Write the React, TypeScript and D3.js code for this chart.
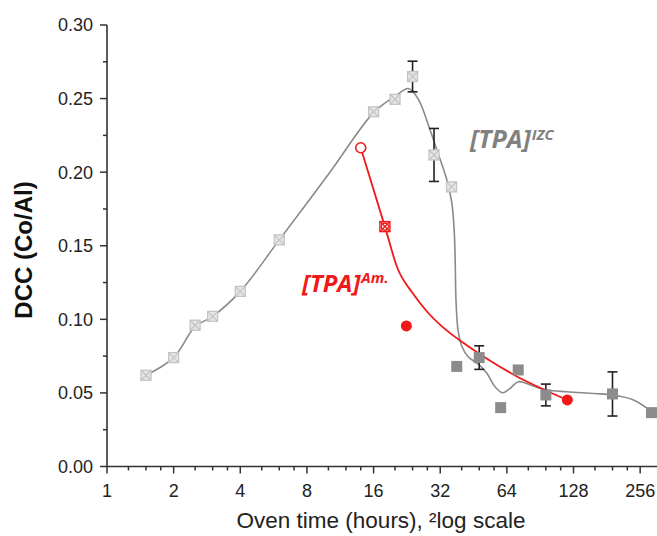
import React from "react";
import * as d3 from "d3";

// ---------- data ----------
// [TPA]^IZC series, light crossed squares (early)
const izcEarlyX = [1.5, 2, 2.5, 3, 4, 6, 16, 20, 24, 30, 36];
const izcEarlyY = [0.062, 0.074, 0.096, 0.102, 0.119, 0.154, 0.241, 0.2495, 0.265, 0.2117, 0.19];
const izcEarlyErr = [0, 0, 0, 0, 0, 0, 0, 0, 0.0104, 0.018, 0];
// [TPA]^IZC series, dark filled squares (late)
const izcLateX = [38, 48, 60, 72, 96, 192, 288];
const izcLateY = [0.068, 0.074, 0.04, 0.0656, 0.0486, 0.0493, 0.0366];
const izcLateErr = [0, 0.008, 0, 0, 0.0074, 0.015, 0];
// smoothed curve of [TPA]^IZC
const izcFitX = [1.5, 2, 2.5, 3, 4, 6, 10.2, 16, 20, 23, 25.5, 28.8, 30.9, 34.3, 36.1, 37.0, 37.4, 37.7, 38.5, 40.0, 42.9, 47.6, 52, 56.6, 61.4, 66.2, 72.2, 84, 97, 119.4, 160, 193.9, 238.9, 289];
const izcFitY = [0.062, 0.074, 0.095, 0.102, 0.119, 0.154, 0.2003, 0.2405, 0.2515, 0.2568, 0.2495, 0.2286, 0.2151, 0.1947, 0.1791, 0.1607, 0.139, 0.1132, 0.0928, 0.0819, 0.0744, 0.0696, 0.0633, 0.0542, 0.0501, 0.0531, 0.0576, 0.0547, 0.052, 0.0508, 0.0496, 0.0486, 0.0452, 0.0372];
// [TPA]^Am. series
const amX = [14, 18, 22.5, 120];
const amY = [0.2166, 0.163, 0.0955, 0.0452];
const amMarker = ["openCircle", "crossSquare", "dot", "dot"];
// smoothed curve of [TPA]^Am.
const amFitX = [14, 18, 20.5, 24, 28, 34, 42, 54, 71, 95, 120];
const amFitY = [0.2166, 0.163, 0.1349, 0.1179, 0.105, 0.0928, 0.0826, 0.0717, 0.0612, 0.052, 0.0452];

const xMajorTicks = [1, 2, 4, 8, 16, 32, 64, 128, 256];
const xMinorFactors = [1.25, 1.5, 1.75];
const yMajorTicks = [0, 0.05, 0.1, 0.15, 0.2, 0.25, 0.3];
const yMinorTicks = [0.025, 0.075, 0.125, 0.175, 0.225, 0.275];

const W = 657;
const H = 536;

export default function App() {
  const x = d3.scaleLog().base(2).domain([1, 305]).range([107, 657]);
  const y = d3.scaleLinear().domain([0, 0.3]).range([466.5, 25]);
  const axisColor = "#333";
  const font = "'Liberation Sans', Arial, sans-serif";
  const labelFont = "'Open Sans', sans-serif";

  const grayLine = d3
    .line<[number, number]>()
    .x((d) => x(d[0]))
    .y((d) => y(d[1]))
    .curve(d3.curveCatmullRom.alpha(0.5));
  const redLine = d3
    .line<[number, number]>()
    .x((d) => x(d[0]))
    .y((d) => y(d[1]))
    .curve(d3.curveMonotoneX);

  const izcFit = izcFitX.map((v, i) => [v, izcFitY[i]] as [number, number]);
  const amFit = amFitX.map((v, i) => [v, amFitY[i]] as [number, number]);

  const xMinor: number[] = [];
  xMajorTicks.forEach((t) =>
    xMinorFactors.forEach((f) => {
      if (t * f <= 305) xMinor.push(t * f);
    })
  );

  const errBar = (xv: number, yv: number, e: number, key: string) => {
    if (!e) return null;
    const cx = x(xv);
    const y1 = y(yv + e);
    const y2 = y(yv - e);
    return (
      <g key={key} stroke="#222" strokeWidth={1.6}>
        <line x1={cx} x2={cx} y1={y1} y2={y2} />
        <line x1={cx - 5} x2={cx + 5} y1={y1} y2={y1} />
        <line x1={cx - 5} x2={cx + 5} y1={y2} y2={y2} />
      </g>
    );
  };

  const s = 5; // half marker size
  return (
    <svg
      width={W}
      height={H}
      style={{ position: "absolute", left: 0, top: 0, background: "#fff" }}
    >
      <rect x={0} y={0} width={W} height={H} fill="#fff" />

      {/* axes */}
      <line x1={x(1)} x2={x(1)} y1={y(0.3)} y2={y(0)} stroke={axisColor} strokeWidth={1.6} />
      <line x1={x(1)} x2={657} y1={y(0)} y2={y(0)} stroke={axisColor} strokeWidth={1.6} />
      {yMajorTicks.map((t) => (
        <g key={"ym" + t}>
          <line x1={x(1) - 7} x2={x(1)} y1={y(t)} y2={y(t)} stroke={axisColor} strokeWidth={1.5} />
          <text
            x={x(1) - 14}
            y={y(t)}
            dy="0.36em"
            textAnchor="end"
            fontFamily={font}
            fontSize={18}
            fill="#222"
          >
            {t.toFixed(2)}
          </text>
        </g>
      ))}
      {yMinorTicks.map((t) => (
        <line key={"yn" + t} x1={x(1) - 4} x2={x(1)} y1={y(t)} y2={y(t)} stroke={axisColor} strokeWidth={1.5} />
      ))}
      {xMajorTicks.map((t) => (
        <g key={"xm" + t}>
          <line x1={x(t)} x2={x(t)} y1={y(0)} y2={y(0) + 7} stroke={axisColor} strokeWidth={1.5} />
          <text x={x(t)} y={y(0) + 30} textAnchor="middle" fontFamily={font} fontSize={18} fill="#222">
            {t}
          </text>
        </g>
      ))}
      {xMinor.map((t) => (
        <line key={"xn" + t} x1={x(t)} x2={x(t)} y1={y(0)} y2={y(0) + 4} stroke={axisColor} strokeWidth={1.5} />
      ))}

      {/* axis titles */}
      <text x={381} y={528} textAnchor="middle" fontFamily={font} fontSize={22.5} fill="#222">
        Oven time (hours), ²log scale
      </text>
      <text
        transform="translate(32,250) rotate(-90)"
        textAnchor="middle"
        fontFamily={font}
        fontSize={24}
        fontWeight="bold"
        fill="#111"
      >
        DCC (Co/Al)
      </text>

      {/* fitted curves */}
      <path d={grayLine(izcFit) || ""} fill="none" stroke="#8a8a8a" strokeWidth={1.6} />
      <path d={redLine(amFit) || ""} fill="none" stroke="#f01818" strokeWidth={1.8} />

      {/* error bars */}
      {izcEarlyX.map((v, i) => errBar(v, izcEarlyY[i], izcEarlyErr[i], "ee" + i))}
      {izcLateX.map((v, i) => errBar(v, izcLateY[i], izcLateErr[i], "el" + i))}

      {/* IZC early markers: crossed squares */}
      {izcEarlyX.map((v, i) => {
        const cx = x(v);
        const cy = y(izcEarlyY[i]);
        return (
          <g key={"ie" + i} stroke="#c4c4c4" strokeWidth={1.3}>
            <rect x={cx - s} y={cy - s} width={2 * s} height={2 * s} fill="#e6e6e6" />
            <line x1={cx - s} y1={cy - s} x2={cx + s} y2={cy + s} />
            <line x1={cx - s} y1={cy + s} x2={cx + s} y2={cy - s} />
          </g>
        );
      })}
      {/* IZC late markers: filled squares */}
      {izcLateX.map((v, i) => (
        <rect
          key={"il" + i}
          x={x(v) - 5.5}
          y={y(izcLateY[i]) - 5.5}
          width={11}
          height={11}
          fill="#8c8c8c"
        />
      ))}

      {/* Am markers */}
      {amX.map((v, i) => {
        const cx = x(v);
        const cy = y(amY[i]);
        const m = amMarker[i];
        if (m === "openCircle")
          return <circle key={"a" + i} cx={cx} cy={cy} r={5} fill="#fff" stroke="#f01818" strokeWidth={1.6} />;
        if (m === "dot") return <circle key={"a" + i} cx={cx} cy={cy} r={5.5} fill="#f01818" />;
        return (
          <g key={"a" + i} stroke="#f01818" strokeWidth={1.4} fill="none">
            <rect x={cx - s} y={cy - s} width={2 * s} height={2 * s} fill="#fff" />
            <circle cx={cx} cy={cy} r={3.6} />
            <line x1={cx - s} y1={cy - s} x2={cx + s} y2={cy + s} />
            <line x1={cx - s} y1={cy + s} x2={cx + s} y2={cy - s} />
          </g>
        );
      })}

      {/* series labels */}
      <text x={470} y={148} fontFamily={labelFont} fontWeight="bold" fontStyle="italic" fontSize={25} fill="#808080">
        <tspan>[TPA]</tspan>
        <tspan dx={1} dy={-8} fontSize={15}>IZC</tspan>
      </text>
      <text x={302} y={292} fontFamily={labelFont} fontWeight="bold" fontStyle="italic" fontSize={24} fill="#f01818">
        <tspan>[TPA]</tspan>
        <tspan dx={1} dy={-9} fontSize={15}>Am.</tspan>
      </text>
    </svg>
  );
}
